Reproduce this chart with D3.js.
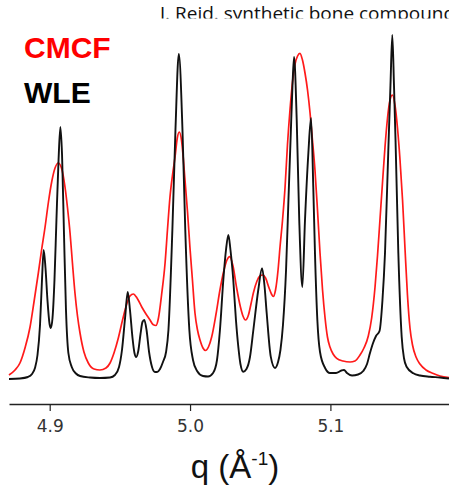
<!DOCTYPE html>
<html>
<head>
<meta charset="utf-8">
<script src="https://cdn.jsdelivr.net/npm/d3@7/dist/d3.min.js"></script>
<style>
  body { margin: 0; background: #fff; }
  svg { display: block; }
</style>
</head>
<body>
<div id="chart"></div>
<script>
var width = 449, height = 490;
var margin_left = 9, margin_right = 0;
var axisY = 404;

// WLE (black) trace, q in 1/Angstrom, intensity in arbitrary units
var wleQ = [4.8710, 4.8788, 4.8845, 4.8874, 4.8895, 4.8913, 4.8931, 4.8945, 4.8957, 4.8970,
  4.8984, 4.8999, 4.9008, 4.9020, 4.9034, 4.9048, 4.9063, 4.9076, 4.9088, 4.9102,
  4.9116, 4.9133, 4.9157, 4.9187, 4.9216, 4.9287, 4.9358, 4.9430, 4.9465, 4.9494,
  4.9515, 4.9537, 4.9556, 4.9572, 4.9590, 4.9604, 4.9616, 4.9631, 4.9647, 4.9661,
  4.9674, 4.9690, 4.9708, 4.9729, 4.9750, 4.9765, 4.9786, 4.9807, 4.9829, 4.9846,
  4.9874, 4.9896, 4.9920, 4.9946, 4.9966, 4.9995, 5.0021, 5.0050, 5.0092, 5.0128,
  5.0164, 5.0192, 5.0213, 5.0237, 5.0256, 5.0273, 5.0288, 5.0308, 5.0327, 5.0344,
  5.0359, 5.0379, 5.0402, 5.0427, 5.0451, 5.0486, 5.0513, 5.0530, 5.0546, 5.0575,
  5.0605, 5.0627, 5.0644, 5.0662, 5.0684, 5.0701, 5.0716, 5.0730, 5.0741, 5.0760,
  5.0778, 5.0800, 5.0819, 5.0843, 5.0862, 5.0878, 5.0890, 5.0907, 5.0926, 5.0962,
  5.0997, 5.1040, 5.1079, 5.1097, 5.1118, 5.1154, 5.1197, 5.1234, 5.1261, 5.1282,
  5.1304, 5.1325, 5.1350, 5.1371, 5.1389, 5.1412, 5.1428, 5.1441, 5.1453, 5.1464,
  5.1484, 5.1508, 5.1524, 5.1544, 5.1591, 5.1638, 5.1710, 5.1781, 5.1845];
var wleI = [11, 11.5, 13, 16, 22, 35, 65, 110, 140, 122,
  90, 66, 62, 72, 110, 170, 230, 263, 235, 155,
  80, 37, 23, 16.5, 14, 12.5, 12, 12.5, 15, 23,
  40, 72, 98, 80, 52, 37, 33, 39, 56, 68,
  70, 60, 38, 23, 18, 18, 21, 28, 38, 60,
  160, 260, 336, 260, 160, 60, 30, 19, 14, 13.5,
  17, 30, 60, 110, 140, 155, 140, 110, 70, 43,
  26, 18.3, 21, 33, 60, 100, 121.7, 105, 77, 33.3,
  22, 28, 40, 65, 120, 190, 250, 305, 333, 270,
  170, 103, 170, 237, 272, 203, 137, 70, 38, 22,
  17, 17, 19.5, 20, 17, 14.5, 15.5, 19, 26, 37,
  47, 54, 59, 90, 137, 237, 305, 355, 305, 250,
  137, 53, 32, 23, 16.7, 14.5, 13.3, 12.5, 11.5];

// CMCF (red) trace
var cmcfQ = [4.8710, 4.8753, 4.8788, 4.8824, 4.8860, 4.8888, 4.8919, 4.8942, 4.8967, 4.8991,
  4.9014, 4.9038, 4.9061, 4.9084, 4.9109, 4.9127, 4.9145, 4.9162, 4.9180, 4.9198,
  4.9216, 4.9244, 4.9275, 4.9316, 4.9358, 4.9401, 4.9430, 4.9458, 4.9489, 4.9519,
  4.9549, 4.9572, 4.9596, 4.9622, 4.9656, 4.9686, 4.9715, 4.9736, 4.9757, 4.9775,
  4.9797, 4.9822, 4.9839, 4.9857, 4.9875, 4.9893, 4.9909, 4.9923, 4.9939, 4.9964,
  4.9982, 4.9999, 5.0017, 5.0035, 5.0053, 5.0071, 5.0092, 5.0110, 5.0131, 5.0154,
  5.0185, 5.0213, 5.0242, 5.0263, 5.0283, 5.0306, 5.0332, 5.0359, 5.0377, 5.0395,
  5.0416, 5.0434, 5.0451, 5.0477, 5.0498, 5.0518, 5.0538, 5.0563, 5.0580, 5.0593,
  5.0609, 5.0627, 5.0641, 5.0659, 5.0677, 5.0694, 5.0712, 5.0730, 5.0748, 5.0766,
  5.0783, 5.0801, 5.0819, 5.0837, 5.0855, 5.0872, 5.0890, 5.0908, 5.0926, 5.0944,
  5.0962, 5.0979, 5.0997, 5.1019, 5.1045, 5.1090, 5.1140, 5.1175, 5.1211, 5.1239,
  5.1270, 5.1294, 5.1318, 5.1336, 5.1353, 5.1371, 5.1389, 5.1407, 5.1425, 5.1442,
  5.1460, 5.1478, 5.1496, 5.1514, 5.1532, 5.1549, 5.1567, 5.1585, 5.1610, 5.1638,
  5.1681, 5.1733, 5.1781, 5.1845];
var cmcfI = [15, 20, 27, 42, 63, 88, 117, 140, 163, 188,
  208, 222, 227, 222, 203, 182, 157, 127, 97, 74,
  57, 38, 27, 21, 20, 22, 27, 37, 52, 70,
  86, 94, 96, 92, 83, 76, 70, 65.5, 64.5, 72,
  95, 127, 160, 193, 215, 233, 252, 258, 250, 210,
  178, 143, 110, 77, 60, 50, 42, 39.5, 43, 53,
  76, 100, 120, 130, 133.3, 124, 102, 83, 74, 70,
  75, 86, 97, 109, 114, 115, 112, 102, 96, 93.5,
  100, 120, 143, 170, 203, 245, 280, 308, 326, 334,
  336.7, 330, 317, 300, 277, 250, 220, 180, 137, 100,
  72, 53, 43, 36, 31.7, 29, 28, 29, 35, 42,
  54, 72, 103, 135, 170, 207, 243, 272, 290, 295,
  285, 262, 230, 190, 140, 95, 62, 45, 33, 26,
  20, 16.5, 14, 12.5];

var qTicks = [4.9, 5.0, 5.1];
var titleText = "J. Reid. synthetic bone compound";

var svg = d3.select("#chart")
  .append("svg")
  .attr("width", width)
  .attr("height", height);

var x = d3.scaleLinear().domain([4.871, 5.1845]).range([margin_left, width - margin_right]);
var y = d3.scaleLinear().domain([0, 360]).range([390, 30]);

var line = d3.line()
  .x(function(d){ return x(d[0]); })
  .y(function(d){ return y(d[1]); })
  .curve(d3.curveMonotoneX);

var cmcf = d3.zip(cmcfQ, cmcfI);
var wle = d3.zip(wleQ, wleI);

svg.append("path")
  .datum(cmcf)
  .attr("d", line)
  .attr("fill", "none")
  .attr("stroke", "#ff1a1a")
  .attr("stroke-width", 1.7);

svg.append("path")
  .datum(wle)
  .attr("d", line)
  .attr("fill", "none")
  .attr("stroke", "#111")
  .attr("stroke-width", 1.9);

// x axis
var xAxis = d3.axisBottom(x)
  .tickValues(qTicks)
  .tickFormat(d3.format(".1f"))
  .tickSizeInner(7)
  .tickSizeOuter(0);

var ax = svg.append("g")
  .attr("transform", "translate(0," + axisY + ")")
  .call(xAxis);
ax.select(".domain").attr("stroke", "#222").attr("stroke-width", 1.3);
ax.selectAll(".tick line").attr("stroke", "#222").attr("stroke-width", 1.2);
ax.selectAll(".tick text")
  .attr("y", 16)
  .attr("fill", "#333")
  .style("font-family", "DejaVu Sans")
  .style("font-size", "17px");

// axis label
var xl = svg.append("text")
  .attr("x", 235)
  .attr("y", 478)
  .attr("text-anchor", "middle")
  .style("font-family", "Liberation Sans")
  .style("font-size", "33px")
  .attr("fill", "#111");
xl.append("tspan").text("q (Å");
xl.append("tspan").attr("dy", -13).style("font-size", "19px").text("-1");
xl.append("tspan").attr("dy", 13).text(")");

// title, clipped at the top like the source
svg.append("clipPath").attr("id", "titleclip")
  .append("rect").attr("x", 0).attr("y", 0).attr("width", width).attr("height", 18.5);
svg.append("text")
  .attr("clip-path", "url(#titleclip)")
  .attr("x", 160)
  .attr("y", 20)
  .style("font-family", "Open Sans")
  .style("font-size", "19px")
  .attr("fill", "#111")
  .text(titleText);

// legend
svg.append("text")
  .attr("x", 24).attr("y", 58)
  .style("font-family", "Liberation Sans")
  .style("font-weight", "bold")
  .style("font-size", "30px")
  .attr("fill", "#ff0000")
  .text("CMCF");
svg.append("text")
  .attr("x", 24).attr("y", 103)
  .style("font-family", "Liberation Sans")
  .style("font-weight", "bold")
  .style("font-size", "30px")
  .attr("fill", "#000")
  .text("WLE");
</script>
</body>
</html>
